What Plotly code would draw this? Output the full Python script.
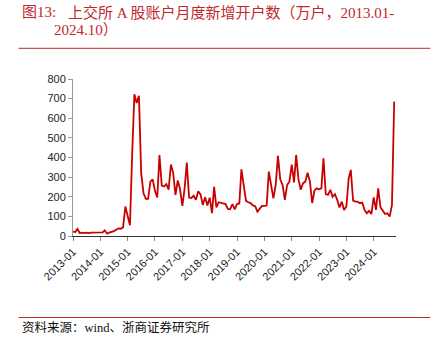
import pandas as pd
import plotly.graph_objects as go

# Monthly new A-share accounts on the Shanghai exchange (10k accounts), 2013-01 .. 2024-10
months = pd.date_range("2013-01-01", "2024-10-01", freq="MS")
new_accounts = [
    22, 20, 36, 15, 17, 15, 17, 15, 17, 17, 19, 19,          # 2013
    18, 18, 29, 12, 17, 20, 25, 32, 39, 37, 44, 150,         # 2014
    100, 55, 400, 722, 678, 714, 320, 218, 189, 189, 277, 289,  # 2015
    230, 197, 413, 257, 252, 264, 236, 364, 320, 210, 283, 238,  # 2016
    153, 245, 374, 196, 194, 205, 184, 228, 212, 158, 198, 155,  # 2017
    195, 116, 250, 146, 172, 168, 163, 163, 138, 136, 163, 136,  # 2018
    163, 166, 340, 248, 179, 172, 168, 156, 152, 124, 140, 153,  # 2019
    153, 155, 328, 252, 192, 260, 408, 288, 260, 184, 260, 277,  # 2020
    364, 273, 413, 290, 236, 269, 276, 323, 278, 168, 232, 243,  # 2021
    238, 243, 396, 213, 209, 235, 200, 213, 184, 145, 175, 133,  # 2022
    150, 294, 337, 180, 175, 175, 167, 170, 133, 116, 128, 112,  # 2023
    197, 133, 243, 146, 128, 112, 116, 99, 159, 685,             # 2024
]
tick_dates = pd.date_range("2013-01-01", "2024-01-01", freq="YS")
tick_labels = [d.strftime("%Y-%m") for d in tick_dates]
y_ticks = list(range(0, 801, 100))

title_line1_head = "图13:"
title_line1_body = "上交所 A 股账户月度新增开户数（万户，2013.01-"
title_line2 = "2024.10）"
source_note = "资料来源：wind、浙商证券研究所"

W, H = 448, 346
L, R, T, B = 73.3, 52.3, 79, 110
PW, PH = W - L - R, H - T - B

def px(x):
    return (x - L) / PW

def py(y):
    return (H - B - y) / PH

RED = "#C0282D"
SERIF = "Liberation Serif, Noto Sans CJK SC, serif"

fig = go.Figure()
fig.add_trace(go.Scatter(
    x=months, y=new_accounts, mode="lines",
    line=dict(color="#C80000", width=1.8),
    hoverinfo="skip", showlegend=False,
))

fig.update_layout(
    width=W, height=H,
    margin=dict(l=L, r=R, t=T, b=B),
    paper_bgcolor="white", plot_bgcolor="white",
    font=dict(family="Liberation Sans, Arial, sans-serif", size=11, color="#222"),
    xaxis=dict(
        type="date", range=["2013-01-01", "2024-10-25"],
        tickvals=tick_dates, ticktext=tick_labels, tickangle=-45,
        showline=True, linecolor="#333", linewidth=1,
        ticks="outside", ticklen=4, tickcolor="#888",
        showgrid=False, zeroline=False,
        tickfont=dict(size=11, color="#222"),
    ),
    yaxis=dict(
        range=[0, 800], tickvals=y_ticks,
        showline=True, linecolor="#999", linewidth=1,
        ticks="outside", ticklen=4, tickcolor="#999",
        showgrid=False, zeroline=False,
        tickfont=dict(size=11, color="#222"),
    ),
)

annotations = [
    dict(text=title_line1_head, x=px(20), y=py(12), xanchor="left", yanchor="middle",
         font=dict(family=SERIF, size=15, color=RED)),
    dict(text=title_line1_body, x=px(66), y=py(12), xanchor="left", yanchor="middle",
         font=dict(family=SERIF, size=15, color=RED)),
    dict(text=title_line2, x=px(52), y=py(30), xanchor="left", yanchor="middle",
         font=dict(family=SERIF, size=15, color=RED)),
    dict(text=source_note, x=px(20), y=py(327), xanchor="left", yanchor="middle",
         font=dict(family=SERIF, size=12.5, color="#111")),
]
for a in annotations:
    a.update(xref="paper", yref="paper", showarrow=False)
fig.update_layout(annotations=annotations)

fig.update_layout(shapes=[
    dict(type="line", xref="paper", yref="paper", x0=px(19), x1=px(430),
         y0=py(48.3), y1=py(48.3), line=dict(color=RED, width=1)),
    dict(type="line", xref="paper", yref="paper", x0=px(19), x1=px(430),
         y0=py(317.5), y1=py(317.5), line=dict(color=RED, width=1)),
])

fig.write_html("out.html")
